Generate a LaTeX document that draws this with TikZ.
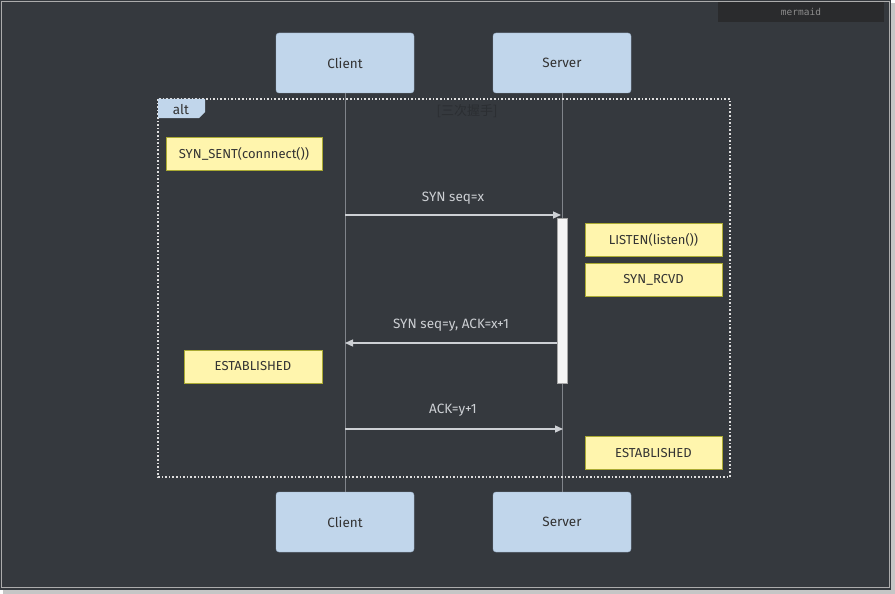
\documentclass[tikz,border=0pt]{standalone}
\usepackage{fontspec}
\setmainfont{Fira Sans}
\setmonofont{DejaVu Sans Mono}
\newfontfamily\cjkfont{Noto Sans CJK SC}
\usetikzlibrary{arrows.meta}

\definecolor{bgdark}{HTML}{35393E}
\definecolor{actorfill}{HTML}{C1D6EB}
\definecolor{actorline}{HTML}{9DB3CB}
\definecolor{notefill}{HTML}{FFF5AD}
\definecolor{noteline}{HTML}{AAAA33}
\definecolor{msgline}{HTML}{CDD0D4}
\definecolor{lifeline}{HTML}{80848A}
\definecolor{txtdark}{HTML}{333333}
\definecolor{badgefill}{HTML}{2A2B2D}
\definecolor{hidden}{HTML}{2B2E32}

\tikzset{
    actor/.style={draw=actorline, fill=actorfill, rounded corners=3pt,
        minimum width=138pt, minimum height=60pt, inner sep=0pt, outer sep=0pt,
        text=txtdark, font=\fontsize{13.5}{16}\selectfont},
    note/.style={draw=noteline, fill=notefill, minimum width=137pt,
        minimum height=33pt, inner sep=0pt, outer sep=0pt,
        text=txtdark, font=\fontsize{13}{15}\selectfont},
    msg/.style={draw=msgline, line width=1.3pt,
        -{Triangle[length=8pt, width=7pt]}},
    msglabel/.style={text=msgline, font=\fontsize{13.5}{16}\selectfont}
}

\begin{document}
\begin{tikzpicture}[x=1pt, y=-1pt]
    % Window
    \fill[white] (0,0) rectangle (895,594);
    \fill[gray!45] (3,3) rectangle (895,594);
    \fill[bgdark] (0,0) rectangle (891,590);
    \draw[gray!65, line width=1pt] (1.5,1.5) rectangle (889,587);

    % Badge
    \node (badge) [fill=badgefill, minimum width=166pt, minimum height=20pt,
        inner sep=0pt, text=gray!90, font=\ttfamily\fontsize{9.5}{11}\selectfont]
        at (801,12) {mermaid};

    % Actors
    \node (clientTop) [actor] at (345,63) {Client};
    \node (serverTop) [actor] at (562,63) {Server};
    \node (clientBot) [actor] at (345,522) {Client};
    \node (serverBot) [actor] at (562,522) {Server};

    % Lifelines
    \draw[lifeline, line width=0.8pt] (clientTop) -- (clientBot);
    \draw[lifeline, line width=0.8pt] (serverTop) -- (serverBot);

    % Alt frame
    \draw[gray!25, line width=1.6pt, dash pattern=on 1.6pt off 2pt]
        (158,99) rectangle (730,477);
    \fill[actorfill] (158,99) -- (205,99) -- (205,112) -- (199,118) -- (158,118) -- cycle;
    \node (altlabel) [text=txtdark, font=\fontsize{13.5}{16}\selectfont] at (181,110) {alt};
    \node (altcond) [text=hidden, font=\cjkfont\fontsize{13}{15}\selectfont] at (467,111) {[三次握手]};

    % Activation
    \node (act) [draw=gray!70, fill=gray!8, minimum width=10pt, minimum height=165pt,
        inner sep=0pt, outer sep=0pt] at (562,300.5) {};

    % Notes
    \node (synSent) [note, minimum width=156pt] at (244,153.5) {SYN\_SENT(connnect())};
    \node (listen) [note] at (653.5,240) {LISTEN(listen())};
    \node (synRcvd) [note] at (653.5,280) {SYN\_RCVD};
    \node (estClient) [note, minimum width=138pt] at (253,366.5) {ESTABLISHED};
    \node (estServer) [note] at (653.5,453) {ESTABLISHED};

    % Messages
    \coordinate (m1a) at (345,215);
    \coordinate (m1b) at (561,215);
    \coordinate (m2a) at (557,343);
    \coordinate (m2b) at (345,343);
    \coordinate (m3a) at (345,429);
    \coordinate (m3b) at (563,429);
    \draw[msg] (m1a) -- (m1b);
    \node (m1) [msglabel] at (453,198) {SYN seq=x};
    \draw[msg] (m2a) -- (m2b);
    \node (m2) [msglabel] at (451,325) {SYN seq=y, ACK=x+1};
    \draw[msg] (m3a) -- (m3b);
    \node (m3) [msglabel] at (453,410) {ACK=y+1};
\end{tikzpicture}
\end{document}
